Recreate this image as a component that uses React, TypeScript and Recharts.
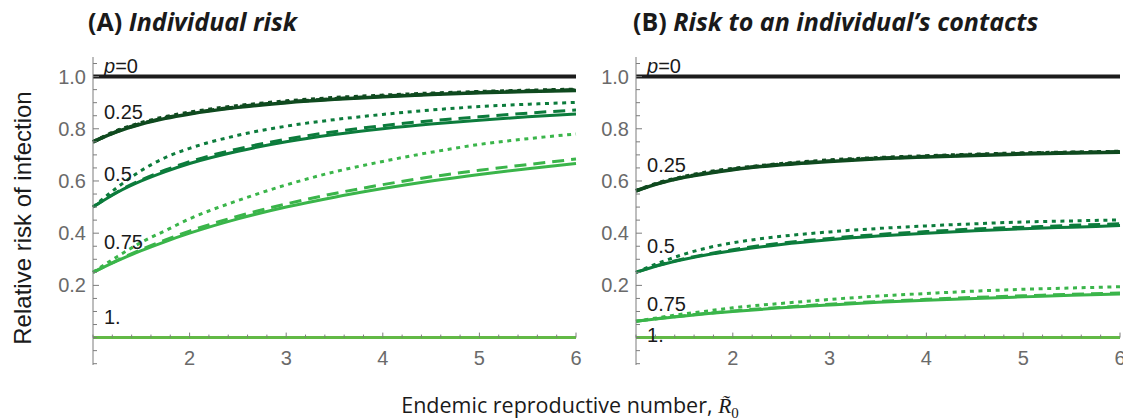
import { LineChart, Line, XAxis, YAxis, ReferenceLine, ReferenceDot } from "recharts";

// endemic reproductive number sampled along the x axis
const r0 = [1, 1.25, 1.5, 1.75, 2, 2.5, 3, 3.5, 4, 4.5, 5, 5.5, 6];

// (A) individual risk
const aP0 = [1, 1, 1, 1, 1, 1, 1, 1, 1, 1, 1, 1, 1];
const aP25Solid = [0.75, 0.789, 0.818, 0.84, 0.857, 0.882, 0.9, 0.913, 0.923, 0.931, 0.938, 0.943, 0.947];
const aP25Dashed = [0.75, 0.79, 0.82, 0.842, 0.859, 0.884, 0.902, 0.915, 0.925, 0.933, 0.94, 0.945, 0.949];
const aP25Dotted = [0.75, 0.793, 0.823, 0.846, 0.863, 0.888, 0.906, 0.919, 0.928, 0.936, 0.942, 0.947, 0.951];
const aP50Solid = [0.5, 0.556, 0.6, 0.636, 0.667, 0.714, 0.75, 0.778, 0.8, 0.818, 0.833, 0.846, 0.857];
const aP50Dashed = [0.5, 0.558, 0.604, 0.642, 0.674, 0.723, 0.76, 0.789, 0.812, 0.831, 0.846, 0.86, 0.872];
const aP50Dotted = [0.5, 0.575, 0.64, 0.69, 0.725, 0.775, 0.81, 0.835, 0.855, 0.872, 0.885, 0.894, 0.901];
const aP75Solid = [0.25, 0.294, 0.333, 0.368, 0.4, 0.455, 0.5, 0.538, 0.571, 0.6, 0.625, 0.647, 0.667];
const aP75Dashed = [0.25, 0.296, 0.337, 0.374, 0.408, 0.465, 0.512, 0.552, 0.586, 0.616, 0.641, 0.663, 0.684];
const aP75Dotted = [0.25, 0.31, 0.365, 0.41, 0.455, 0.525, 0.585, 0.635, 0.675, 0.71, 0.74, 0.762, 0.78];
const aP100 = [0, 0, 0, 0, 0, 0, 0, 0, 0, 0, 0, 0, 0];

// (B) risk to an individual's contacts
const bP0 = [1, 1, 1, 1, 1, 1, 1, 1, 1, 1, 1, 1, 1];
const bP25Solid = [0.5625, 0.592, 0.614, 0.63, 0.643, 0.662, 0.675, 0.685, 0.692, 0.698, 0.703, 0.707, 0.71];
const bP25Dashed = [0.5625, 0.593, 0.615, 0.632, 0.645, 0.664, 0.677, 0.687, 0.694, 0.7, 0.705, 0.709, 0.712];
const bP25Dotted = [0.5625, 0.595, 0.617, 0.635, 0.647, 0.666, 0.68, 0.689, 0.696, 0.702, 0.707, 0.71, 0.713];
const bP50Solid = [0.25, 0.278, 0.3, 0.318, 0.333, 0.357, 0.375, 0.389, 0.4, 0.409, 0.417, 0.423, 0.429];
const bP50Dashed = [0.25, 0.279, 0.302, 0.321, 0.337, 0.362, 0.38, 0.395, 0.406, 0.416, 0.423, 0.43, 0.436];
const bP50Dotted = [0.25, 0.288, 0.32, 0.345, 0.363, 0.388, 0.405, 0.418, 0.428, 0.436, 0.443, 0.447, 0.451];
const bP75Solid = [0.0625, 0.0735, 0.083, 0.092, 0.1, 0.114, 0.125, 0.135, 0.143, 0.15, 0.156, 0.162, 0.167];
const bP75Dashed = [0.0625, 0.074, 0.084, 0.0935, 0.102, 0.116, 0.128, 0.138, 0.1465, 0.154, 0.16, 0.166, 0.171];
const bP75Dotted = [0.0625, 0.0775, 0.091, 0.1025, 0.114, 0.131, 0.146, 0.159, 0.169, 0.178, 0.185, 0.19, 0.195];
const bP100 = [0, 0, 0, 0, 0, 0, 0, 0, 0, 0, 0, 0, 0];

// tick labels
const xLabels = [2, 3, 4, 5, 6];
const yLabels = [0.2, 0.4, 0.6, 0.8, 1.0];

// curve labels (text, anchor value on the y axis)
const labelsA = [
  { text: "p=0", y: 1.04 },
  { text: "0.25", y: 0.865 },
  { text: "0.5", y: 0.628 },
  { text: "0.75", y: 0.365 },
  { text: "1.", y: 0.077 },
];
const labelsB = [
  { text: "p=0", y: 1.04 },
  { text: "0.25", y: 0.662 },
  { text: "0.5", y: 0.35 },
  { text: "0.75", y: 0.128 },
  { text: "1.", y: 0.01 },
];
const labelX = 1.114;

const Y_MIN = -0.105;
const Y_MAX = 1.075;
const PLOT_TOP = 57;
const PLOT_BOTTOM = 365;
const PLOT_H = PLOT_BOTTOM - PLOT_TOP;
const ZERO_OFF = (PLOT_H * (0 - Y_MIN)) / (Y_MAX - Y_MIN);

const BLACK = "#1c1c1c";
const G25 = "#0f4a1f";
const G50 = "#0c7c3c";
const G75 = "#3ab54a";
const G100 = "#62b946";
const AXIS = "#7d7d7d";
const TICK_TEXT = "#6a6a6a";

const xTicks = Array.from({ length: 26 }, (_, i) => 1 + i * 0.2);
const yTicks = Array.from({ length: 24 }, (_, i) => -0.1 + i * 0.05);

const SOLID = undefined;
const DASHED = "12 7";
const DOTTED = "4 4.6";

type Series = { key: string; values: number[]; color: string; dash?: string; width: number };

function seriesFor(v: number[][]): Series[] {
  const [p100, p75s, p75d, p75o, p50s, p50d, p50o, p25s, p25d, p25o, p0] = v;
  return [
    { key: "p100", values: p100, color: G100, width: 3 },
    { key: "p75s", values: p75s, color: G75, dash: SOLID, width: 3 },
    { key: "p75d", values: p75d, color: G75, dash: DASHED, width: 3 },
    { key: "p75o", values: p75o, color: G75, dash: DOTTED, width: 3 },
    { key: "p50s", values: p50s, color: G50, dash: SOLID, width: 3 },
    { key: "p50d", values: p50d, color: G50, dash: DASHED, width: 3 },
    { key: "p50o", values: p50o, color: G50, dash: DOTTED, width: 3 },
    { key: "p25s", values: p25s, color: G25, dash: SOLID, width: 3.5 },
    { key: "p25d", values: p25d, color: G25, dash: DASHED, width: 3.5 },
    { key: "p25o", values: p25o, color: G25, dash: DOTTED, width: 3.5 },
    { key: "p0", values: p0, color: BLACK, width: 4 },
  ];
}

const seriesA = seriesFor([aP100, aP75Solid, aP75Dashed, aP75Dotted, aP50Solid, aP50Dashed, aP50Dotted, aP25Solid, aP25Dashed, aP25Dotted, aP0]);
const seriesB = seriesFor([bP100, bP75Solid, bP75Dashed, bP75Dotted, bP50Solid, bP50Dashed, bP50Dotted, bP25Solid, bP25Dashed, bP25Dotted, bP0]);

function rows(series: Series[]) {
  return r0.map((r, i) => {
    const row: Record<string, number> = { r };
    series.forEach((s) => (row[s.key] = s.values[i]));
    return row;
  });
}

const XTick = (props: any) => {
  const { x, y, payload } = props;
  const v = payload.value;
  const major = xLabels.some((l) => Math.abs(l - v) < 1e-6);
  const zy = y - ZERO_OFF;
  return (
    <g>
      <line x1={x} x2={x} y1={zy} y2={zy - (major ? 5 : 3)} stroke={AXIS} strokeWidth={1} />
      {major && (
        <text x={x} y={zy + 20} textAnchor="middle" dominantBaseline="central" fill={TICK_TEXT}
          fontSize={20} fontFamily="Liberation Sans, Arial, sans-serif">
          {Math.round(v)}
        </text>
      )}
    </g>
  );
};

const YTick = (props: any) => {
  const { x, y, payload } = props;
  const v = payload.value;
  const major = yLabels.some((l) => Math.abs(l - v) < 1e-6);
  return (
    <g>
      <line x1={x} x2={x + (major ? 6 : 4)} y1={y} y2={y} stroke={AXIS} strokeWidth={1} />
      {major && (
        <text x={x - 7} y={y} textAnchor="end" dominantBaseline="central" fill={TICK_TEXT}
          fontSize={20} fontFamily="Liberation Sans, Arial, sans-serif">
          {v.toFixed(1)}
        </text>
      )}
    </g>
  );
};

const curveLabel = (text: string) => (props: any) => (
  <text x={props.cx} y={props.cy} dominantBaseline="central" fill="#1a1a1a" fontSize={20}
    fontFamily="Liberation Sans, Arial, sans-serif">
    {text.startsWith("p") ? (
      <>
        <tspan fontStyle="italic">p</tspan>
        {text.slice(1)}
      </>
    ) : (
      text
    )}
  </text>
);

function Panel({ series, labels, width, yAxisWidth, left, right }: {
  series: Series[]; labels: { text: string; y: number }[]; width: number; yAxisWidth: number; left: number; right: number;
}) {
  return (
    <LineChart width={width} height={420} data={rows(series)}
      margin={{ top: PLOT_TOP, right, left, bottom: 420 - PLOT_BOTTOM - 30 }}>
      <XAxis type="number" dataKey="r" domain={[1, 6]} ticks={xTicks} interval={0}
        axisLine={false} tickLine={false} tickSize={0} tickMargin={0} height={30} tick={<XTick />} />
      <YAxis type="number" domain={[Y_MIN, Y_MAX]} allowDataOverflow ticks={yTicks} interval={0}
        width={yAxisWidth} axisLine={{ stroke: AXIS, strokeWidth: 1 }} tickLine={false}
        tickSize={0} tickMargin={0} tick={<YTick />} />
      <ReferenceLine y={0} stroke={AXIS} strokeWidth={1.5} />
      {series.map((s) => (
        <Line key={s.key} type="monotone" dataKey={s.key} stroke={s.color} strokeWidth={s.width}
          strokeDasharray={s.dash} dot={false} activeDot={false} isAnimationActive={false} />
      ))}
      {labels.map((l) => (
        <ReferenceDot key={l.text} x={labelX} y={l.y} r={0} shape={curveLabel(l.text)} />
      ))}
    </LineChart>
  );
}

export default function App() {
  return (
    <div style={{ position: "absolute", left: 0, top: 0, width: 1123, height: 420, background: "#fff" }}>
      <svg width={1123} height={420} style={{ position: "absolute", left: 0, top: 0 }}>
        <text x={88} y={31} fontSize={25} fontFamily="Open Sans, sans-serif" fontWeight={700} fill="#1a1a1a">
          (A) <tspan fontStyle="italic">Individual risk</tspan>
        </text>
        <text x={633} y={31} fontSize={25} fontFamily="Open Sans, sans-serif" fontWeight={700} fill="#1a1a1a">
          (B) <tspan fontStyle="italic">Risk to an individual’s contacts</tspan>
        </text>
        <text transform="translate(22,218) rotate(-90)" textAnchor="middle" dominantBaseline="central"
          fontSize={24} fontFamily="Liberation Sans, Arial, sans-serif" fill="#1a1a1a">
          Relative risk of infection
        </text>
        <text x={570} y={413} textAnchor="middle" fontSize={21.5} fontFamily="Open Sans, sans-serif" fill="#1a1a1a">
          Endemic reproductive number,{" "}
          <tspan fontStyle="italic" fontFamily="Liberation Serif, serif">R̃</tspan>
          <tspan fontSize={15} dy={5} fontFamily="Liberation Serif, serif">0</tspan>
        </text>
      </svg>
      <div style={{ position: "absolute", left: 0, top: 0 }}>
        <Panel series={seriesA} labels={labelsA} width={600} yAxisWidth={50} left={43} right={24} />
      </div>
      <div style={{ position: "absolute", left: 560, top: 0 }}>
        <Panel series={seriesB} labels={labelsB} width={563} yAxisWidth={50} left={26} right={3} />
      </div>
    </div>
  );
}
